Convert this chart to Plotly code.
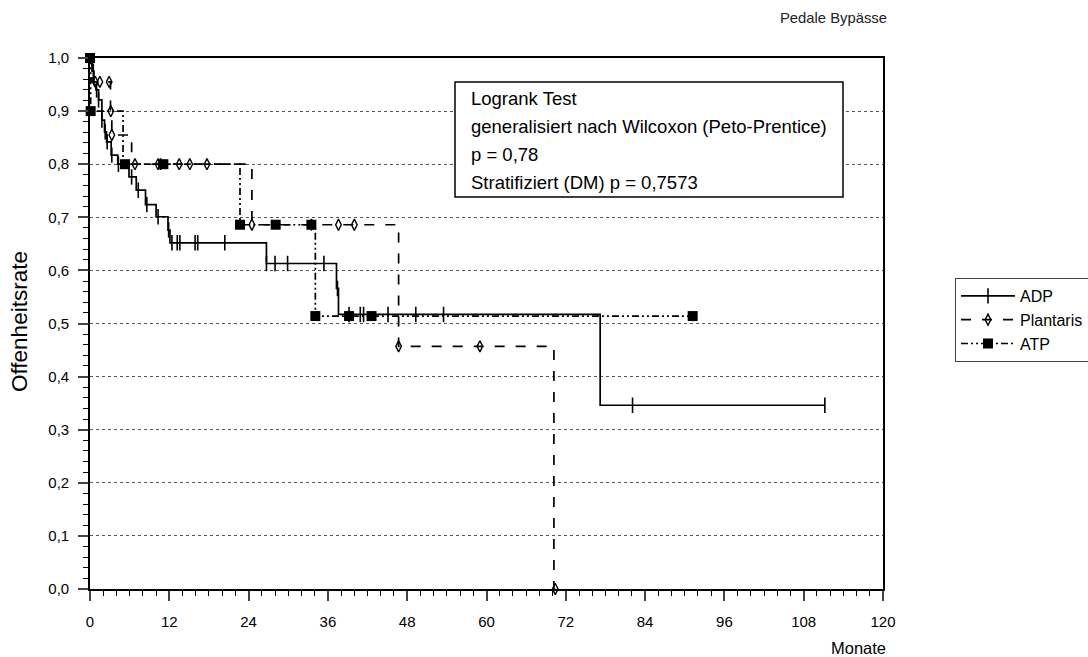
import numpy as np
import plotly.graph_objects as go

# Kaplan-Meier Stufen: Zeitpunkt (Monate) ab dem die Offenheitsrate gilt
adp_t = [0, 0.3, 0.6, 0.9, 1.3, 1.8, 2.2, 2.5, 3.2, 4.2, 5.9, 7.0, 8.4, 10.0, 11.8, 12.1, 26.7, 37.3, 37.6, 77.2]
adp_s = [1.0, 0.975, 0.95, 0.94, 0.921, 0.883, 0.861, 0.842, 0.817, 0.80, 0.776, 0.751, 0.724, 0.701, 0.676,
         0.652, 0.613, 0.566, 0.517, 0.346]
adp_end = 111.2
adp_cens = [0.5, 1.0, 1.3, 1.8, 2.3, 2.6, 3.3, 4.3, 6.3, 7.3, 8.6, 10.3, 11.9, 12.4, 13.2, 13.6, 15.9, 16.3,
            20.4, 26.7, 28.0, 29.9, 35.4, 37.45, 39.2, 40.9, 41.4, 45.1, 49.3, 53.5, 82.1, 111.2]

pla_t = [0, 0.3, 3.1, 3.3, 6.3, 24.5, 46.7, 70.2]
pla_s = [1.0, 0.955, 0.90, 0.855, 0.80, 0.686, 0.457, 0.0]
pla_end = 70.4
pla_cens = [0.8, 1.5, 2.9, 3.15, 3.3, 6.8, 10.3, 10.7, 13.5, 15.1, 17.7, 24.5, 33.5, 37.6, 40.0,
            46.7, 59.0, 70.4]

atp_t = [0, 0.1, 5.0, 22.7, 34.1]
atp_s = [1.0, 0.90, 0.80, 0.686, 0.514]
atp_end = 91.2
atp_cens = [0.0, 0.1, 5.3, 11.1, 22.7, 28.1, 33.5, 34.1, 39.2, 42.6, 91.2]

x_ticks = list(range(0, 121, 12))
stat_lines = [
    "Logrank Test",
    "generalisiert nach Wilcoxon (Peto-Prentice)",
    "p = 0,78",
    "Stratifiziert (DM) p = 0,7573",
]

FONT = "Liberation Sans, Arial, sans-serif"

series = [
    dict(name="ADP", t=adp_t, s=adp_s, end=adp_end, cens=adp_cens,
         dash="solid", symbol="line-ns", msize=11, mline=1.6),
    dict(name="Plantaris", t=pla_t, s=pla_s, end=pla_end, cens=pla_cens,
         dash="10px,11px", symbol="diamond-tall-open", msize=8, mline=1.4),
    dict(name="ATP", t=atp_t, s=atp_s, end=atp_end, cens=atp_cens,
         dash="7px,3px,2px,3px,2px,3px", symbol="square", msize=10, mline=0),
]

fig = go.Figure()

for sr in series:
    t = np.asarray(sr["t"], dtype=float)
    s = np.asarray(sr["s"], dtype=float)
    xs = np.append(t, sr["end"])
    ys = np.append(s, s[-1])
    fig.add_trace(go.Scatter(
        x=xs, y=ys, mode="lines", line_shape="hv",
        line=dict(color="black", width=1.7, dash=sr["dash"]),
        showlegend=False, hoverinfo="skip"))
    # zensierte Beobachtungen auf der Stufenfunktion
    ct = np.asarray(sr["cens"], dtype=float)
    idx = np.searchsorted(t, ct, side="right") - 1
    fig.add_trace(go.Scatter(
        x=ct, y=s[idx], mode="markers", cliponaxis=False,
        marker=dict(symbol=sr["symbol"], size=sr["msize"], color="black",
                    line=dict(color="black", width=sr["mline"])),
        showlegend=False))
    # Legendeneintrag
    fig.add_trace(go.Scatter(
        x=[None], y=[None], mode="lines+markers", name=sr["name"],
        line=dict(color="black", width=1.7, dash=sr["dash"]),
        marker=dict(symbol=sr["symbol"], size=sr["msize"], color="black",
                    line=dict(color="black", width=sr["mline"]))))

L, R, T, B = 90, 205, 58, 68
W, H = 1088, 657
pw, ph = W - L - R, H - T - B


def px(xp):
    return (xp - L) / pw


def py(yp):
    return (H - B - yp) / ph


# Kasten mit Testergebnissen
fig.add_shape(type="rect", xref="paper", yref="paper",
              x0=px(455), x1=px(843), y0=py(197), y1=py(82),
              fillcolor="white", line=dict(color="black", width=1.5), layer="above")
for i, txt in enumerate(stat_lines):
    fig.add_annotation(text=txt, xref="paper", yref="paper", x=px(469), y=py(98 + 28.3 * i),
                       xanchor="left", yanchor="middle", showarrow=False,
                       font=dict(size=18.5, color="black", family=FONT))

fig.add_annotation(text="Offenheitsrate", xref="paper", yref="paper", x=px(19), y=py(322),
                   textangle=-90, xanchor="center", yanchor="middle", showarrow=False,
                   font=dict(size=22.5, color="black", family=FONT))
fig.add_annotation(text="Monate", xref="paper", yref="paper", x=px(858), y=py(648),
                   xanchor="center", yanchor="middle", showarrow=False,
                   font=dict(size=16.5, color="black", family=FONT))
fig.add_annotation(text="Pedale Bypässe", xref="paper", yref="paper", x=px(833), y=py(18),
                   xanchor="center", yanchor="middle", showarrow=False,
                   font=dict(size=14.8, color="#222", family=FONT))

fig.update_layout(
    width=W, height=H,
    margin=dict(l=L, r=R, t=T, b=B, autoexpand=False),
    plot_bgcolor="white", paper_bgcolor="white",
    separators=", ",
    font=dict(family=FONT, size=15, color="black"),
    legend=dict(x=px(955), y=py(278), xanchor="left", yanchor="top",
                bordercolor="#444", borderwidth=1, bgcolor="white",
                font=dict(size=16, color="black", family=FONT),
                itemwidth=54, tracegroupgap=0),
    xaxis=dict(range=[0, 120], tickvals=x_ticks, ticks="outside", ticklen=10, tickwidth=1.5,
               showline=True, linecolor="black", linewidth=1.6, mirror=True,
               showgrid=False, zeroline=False, ticklabelstandoff=8,
               minor=dict(dtick=2, ticks="outside", ticklen=5, tickwidth=1.2, tickcolor="black"),
               tickfont=dict(size=15)),
    yaxis=dict(range=[0, 1], dtick=0.1, tickformat=".1f", ticks="outside", ticklen=10, tickwidth=1.5,
               showline=True, linecolor="black", linewidth=1.6, mirror=True,
               showgrid=True, gridcolor="#555", griddash="dot", gridwidth=1, zeroline=False,
               ticklabelstandoff=6,
               minor=dict(dtick=0.02, ticks="outside", ticklen=5, tickwidth=1.2, tickcolor="black"),
               tickfont=dict(size=15)),
)

fig.write_html("out.html")
